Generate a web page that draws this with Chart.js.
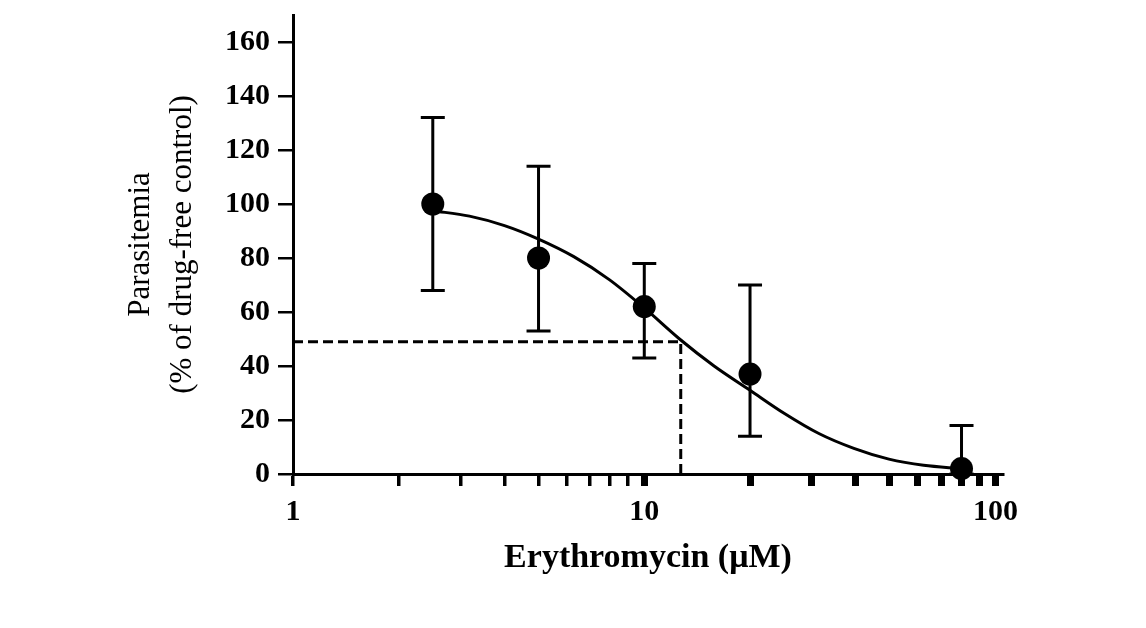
<!DOCTYPE html>
<html lang="en">
<head>
<meta charset="UTF-8">
<title>Erythromycin dose response</title>
<script src="https://cdn.jsdelivr.net/npm/chart.js@4"></script>
<style>
  html, body { margin: 0; padding: 0; background: #fff; }
  #wrap { width: 1146px; height: 628px; }
</style>
</head>
<body>
<div id="wrap"><canvas id="doseChart"></canvas></div>
<script>
// measured points (mean, error bar top / bottom)
const doses = [2.5, 5, 10, 20, 80];
const parasitemia = [100, 80, 62, 37, 2];
const errHigh = [132, 114, 78, 70, 18];
const errLow = [68, 53, 43, 14, 0];

// fitted curve
const fitDoses = [2.5, 3.18, 4, 5, 6.3, 7.95, 10, 12.6, 15.8, 20, 25, 31.4, 39.5, 49.7, 62.4, 80];
const fitValues = [97.5, 95.5, 92, 87, 80.5, 72, 61.5, 50, 40, 31, 22.5, 15, 9.5, 5.5, 3.2, 2];

// IC50 guide lines
const ic50Doses = [1, 12.7, 12.7];
const ic50Values = [49, 49, 0];

const yTicks = [0, 20, 40, 60, 80, 100, 120, 140, 160];
const xTicks = [1, 2, 3, 4, 5, 6, 7, 8, 9, 10, 20, 30, 40, 50, 60, 70, 80, 90, 100];
const xLabels = [1, 10, 100];

const serif = '"Liberation Serif", "Times New Roman", serif';

// draws the vertical error bars with caps
const errorBars = {
    id: 'errorBars',
    afterDatasetsDraw(chart) {
        const { ctx, scales: { x, y } } = chart;
        ctx.save();
        ctx.strokeStyle = '#000';
        ctx.lineWidth = 3;
        doses.forEach((d, i) => {
            const px = x.getPixelForValue(d);
            const top = y.getPixelForValue(errHigh[i]);
            const bot = y.getPixelForValue(errLow[i]);
            ctx.beginPath();
            ctx.moveTo(px, top);
            ctx.lineTo(px, bot);
            ctx.moveTo(px - 12, top);
            ctx.lineTo(px + 12, top);
            ctx.moveTo(px - 12, bot);
            ctx.lineTo(px + 12, bot);
            ctx.stroke();
        });
        ctx.restore();
    }
};

new Chart(document.getElementById('doseChart').getContext('2d'), {
    type: 'scatter',
    data: {
        datasets: [
            {
                label: 'Fit',
                data: fitDoses.map((d, i) => ({ x: d, y: fitValues[i] })),
                showLine: true,
                borderColor: '#000',
                borderWidth: 3,
                pointRadius: 0,
                cubicInterpolationMode: 'monotone'
            },
            {
                label: 'IC50',
                data: ic50Doses.map((d, i) => ({ x: d, y: ic50Values[i] })),
                showLine: true,
                borderColor: '#000',
                borderWidth: 3,
                borderDash: [10, 5],
                pointRadius: 0
            },
            {
                label: 'Parasitemia',
                data: doses.map((d, i) => ({ x: d, y: parasitemia[i] })),
                backgroundColor: '#000',
                borderWidth: 0,
                pointRadius: 11.5,
                clip: false
            }
        ]
    },
    options: {
        responsive: true,
        maintainAspectRatio: false,
        animation: false,
        layout: { padding: { left: 116, right: 143, top: 15, bottom: 45 } },
        plugins: {
            legend: { display: false },
            tooltip: { enabled: false }
        },
        scales: {
            x: {
                type: 'logarithmic',
                min: 1,
                max: 105,
                afterBuildTicks: scale => { scale.ticks = xTicks.map(v => ({ value: v })); },
                afterFit: scale => {
                    scale.height = 109;
                    scale.paddingLeft = 0;
                    scale.paddingRight = 0;
                },
                ticks: {
                    autoSkip: false,
                    maxRotation: 0,
                    padding: 8,
                    color: '#000',
                    font: { family: serif, size: 30, weight: 'bold' },
                    callback: v => xLabels.includes(v) ? String(v) : ''
                },
                grid: {
                    drawOnChartArea: false,
                    tickLength: 12,
                    color: '#000',
                    lineWidth: c => (c.tick && c.tick.value >= 10) ? 7 : 3.5
                },
                border: { color: '#000', width: 3 },
                title: {
                    display: true,
                    text: 'Erythromycin (μM)',
                    color: '#000',
                    font: { family: serif, size: 34, weight: 'bold' },
                    padding: { top: 4, bottom: 4 }
                }
            },
            y: {
                min: 0,
                max: 170,
                afterBuildTicks: scale => { scale.ticks = yTicks.map(v => ({ value: v })); },
                afterFit: scale => {
                    scale.width = 177;
                    scale.paddingTop = 0;
                    scale.paddingBottom = 0;
                },
                ticks: {
                    padding: 8,
                    color: '#000',
                    font: { family: serif, size: 30, weight: 'bold' }
                },
                grid: {
                    drawOnChartArea: false,
                    tickLength: 15,
                    color: '#000',
                    lineWidth: 2.5
                },
                border: { color: '#000', width: 3 },
                title: {
                    display: true,
                    text: ['Parasitemia', '(% of drug-free control)'],
                    color: '#000',
                    font: { family: serif, size: 31, weight: 'normal', lineHeight: 1.35 },
                    padding: { top: 4, bottom: 4 }
                }
            }
        }
    },
    plugins: [errorBars]
});
</script>
</body>
</html>
